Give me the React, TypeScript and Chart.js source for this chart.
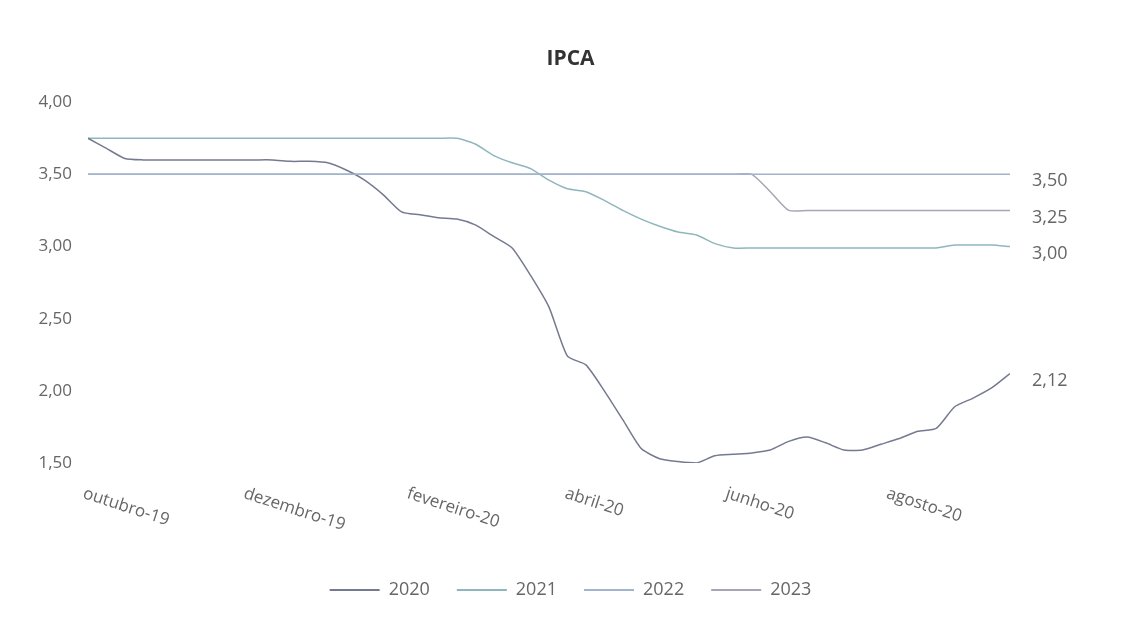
import { useEffect, useRef } from "react";
import { Chart, registerables } from "chart.js";

Chart.register(...registerables);

const FONT = "'Open Sans', 'DejaVu Sans', sans-serif";

// Weekly Focus survey dates
const dates = [
  "2019-10-04", "2019-10-11", "2019-10-18", "2019-10-25",
  "2019-11-01", "2019-11-08", "2019-11-15", "2019-11-22", "2019-11-29",
  "2019-12-06", "2019-12-13", "2019-12-20", "2019-12-27",
  "2020-01-03", "2020-01-10", "2020-01-17", "2020-01-24", "2020-01-31",
  "2020-02-07", "2020-02-14", "2020-02-21", "2020-02-28",
  "2020-03-06", "2020-03-13", "2020-03-20", "2020-03-27",
  "2020-04-03", "2020-04-10", "2020-04-17", "2020-04-24",
  "2020-05-01", "2020-05-08", "2020-05-15", "2020-05-22", "2020-05-29",
  "2020-06-05", "2020-06-12", "2020-06-19", "2020-06-26",
  "2020-07-03", "2020-07-10", "2020-07-17", "2020-07-24", "2020-07-31",
  "2020-08-07", "2020-08-14", "2020-08-21", "2020-08-28",
  "2020-09-04", "2020-09-11", "2020-09-18",
];

const ipca2020 = [
  3.75, 3.68, 3.61, 3.60, 3.60, 3.60, 3.60, 3.60, 3.60, 3.60,
  3.60, 3.59, 3.59, 3.58, 3.53, 3.46, 3.36, 3.24, 3.22, 3.20,
  3.19, 3.15, 3.07, 2.99, 2.80, 2.58, 2.24, 2.18, 2.00, 1.80,
  1.60, 1.53, 1.51, 1.50, 1.55, 1.56, 1.57, 1.59, 1.65, 1.68,
  1.64, 1.59, 1.59, 1.63, 1.67, 1.72, 1.74, 1.89, 1.95, 2.02,
  2.12,
];

const ipca2021 = [
  3.75, 3.75, 3.75, 3.75, 3.75, 3.75, 3.75, 3.75, 3.75, 3.75,
  3.75, 3.75, 3.75, 3.75, 3.75, 3.75, 3.75, 3.75, 3.75, 3.75,
  3.75, 3.71, 3.63, 3.58, 3.54, 3.46, 3.40, 3.38, 3.32, 3.25,
  3.19, 3.14, 3.10, 3.08, 3.02, 2.99, 2.99, 2.99, 2.99, 2.99,
  2.99, 2.99, 2.99, 2.99, 2.99, 2.99, 2.99, 3.01, 3.01, 3.01,
  3.00,
];

const ipca2022 = [
  3.50, 3.50, 3.50, 3.50, 3.50, 3.50, 3.50, 3.50, 3.50, 3.50,
  3.50, 3.50, 3.50, 3.50, 3.50, 3.50, 3.50, 3.50, 3.50, 3.50,
  3.50, 3.50, 3.50, 3.50, 3.50, 3.50, 3.50, 3.50, 3.50, 3.50,
  3.50, 3.50, 3.50, 3.50, 3.50, 3.50, 3.50, 3.50, 3.50, 3.50,
  3.50, 3.50, 3.50, 3.50, 3.50, 3.50, 3.50, 3.50, 3.50, 3.50,
  3.50,
];

const ipca2023 = [
  3.50, 3.50, 3.50, 3.50, 3.50, 3.50, 3.50, 3.50, 3.50, 3.50,
  3.50, 3.50, 3.50, 3.50, 3.50, 3.50, 3.50, 3.50, 3.50, 3.50,
  3.50, 3.50, 3.50, 3.50, 3.50, 3.50, 3.50, 3.50, 3.50, 3.50,
  3.50, 3.50, 3.50, 3.50, 3.50, 3.50, 3.50, 3.38, 3.25, 3.25,
  3.25, 3.25, 3.25, 3.25, 3.25, 3.25, 3.25, 3.25, 3.25, 3.25,
  3.25,
];

const seriesNames = ["2020", "2021", "2022", "2023"];
const seriesValues = [ipca2020, ipca2021, ipca2022, ipca2023];
const seriesColors = ["#757a90", "#8fb6bd", "#a0b4cd", "#aaa5b6"];

const monthTickDates = [
  "2019-10-01", "2019-12-01", "2020-02-01", "2020-04-01", "2020-06-01", "2020-08-01",
];
const monthTickLabels = [
  "outubro-19", "dezembro-19", "fevereiro-20", "abril-20", "junho-20", "agosto-20",
];

const yMin = 1.5;
const yMax = 4.0;
const yStep = 0.5;

const BASE = Date.parse("2019-10-01T00:00:00Z");
const dayOf = (d: string) => Math.round((Date.parse(d + "T00:00:00Z") - BASE) / 86400000);
const fmt = (v: number) => v.toFixed(2).replace(".", ",");

const TEXT_COLOR = "#666666";

const monthLabelsPlugin = {
  id: "monthLabels",
  afterDraw(chart: any) {
    const { ctx, chartArea } = chart;
    const x = chart.scales.x;
    ctx.save();
    ctx.font = `17px ${FONT}`;
    ctx.fillStyle = TEXT_COLOR;
    ctx.textAlign = "left";
    ctx.textBaseline = "top";
    monthTickDates.forEach((d, i) => {
      const px = x.getPixelForValue(dayOf(d));
      ctx.save();
      ctx.translate(px + 6, chartArea.bottom + 22);
      ctx.rotate((18 * Math.PI) / 180);
      ctx.fillText(monthTickLabels[i], 0, 0);
      ctx.restore();
    });
    ctx.restore();
  },
};

const endLabelsPlugin = {
  id: "endLabels",
  afterDatasetsDraw(chart: any) {
    const { ctx, chartArea } = chart;
    ctx.save();
    ctx.font = `18px ${FONT}`;
    ctx.fillStyle = TEXT_COLOR;
    ctx.textAlign = "left";
    ctx.textBaseline = "middle";
    chart.data.datasets.forEach((ds: any, i: number) => {
      const meta = chart.getDatasetMeta(i);
      const pt = meta.data[meta.data.length - 1];
      if (!pt) return;
      const last = ds.data[ds.data.length - 1].y;
      ctx.fillText(fmt(last), chartArea.right + 22, pt.y + 7);
    });
    ctx.restore();
  },
};

export default function App() {
  const ref = useRef<HTMLCanvasElement | null>(null);

  useEffect(() => {
    if (!ref.current) return;
    const chart = new Chart(ref.current, {
      type: "line",
      data: {
        datasets: seriesNames.map((name, i) => ({
          label: name,
          data: dates.map((d, j) => ({ x: dayOf(d), y: seriesValues[i][j] })),
          borderColor: seriesColors[i],
          backgroundColor: seriesColors[i],
          borderWidth: 1.5,
          pointRadius: 0,
          tension: 0.2,
          fill: false,
          order: i === 2 ? -1 : i,
        })),
      },
      options: {
        responsive: false,
        animation: false,
        layout: { padding: { top: 28, left: 16, right: 0, bottom: 14 } },
        plugins: {
          title: {
            display: true,
            text: "IPCA",
            color: "#333333",
            font: { family: FONT, size: 21, weight: "bold" },
            padding: { top: 10, bottom: 31 },
          },
          legend: {
            display: true,
            position: "bottom",
            labels: {
              boxWidth: 50,
              boxHeight: 2,
              padding: 27,
              color: TEXT_COLOR,
              font: { family: FONT, size: 18 },
              generateLabels: (c: any) =>
                c.data.datasets.map((ds: any, i: number) => ({
                  text: ds.label,
                  fillStyle: ds.borderColor,
                  strokeStyle: ds.borderColor,
                  fontColor: TEXT_COLOR,
                  lineWidth: 0,
                  hidden: false,
                  datasetIndex: i,
                })),
            },
          },
          tooltip: { enabled: false },
        },
        scales: {
          x: {
            type: "linear",
            min: dayOf(dates[0]),
            max: dayOf(dates[dates.length - 1]),
            grid: { display: false, drawTicks: false },
            border: { display: false },
            ticks: { display: false },
            afterFit: (s: any) => {
              s.height = 91;
            },
          },
          y: {
            min: yMin,
            max: yMax,
            grid: { display: false, drawTicks: false },
            border: { display: false },
            ticks: {
              stepSize: yStep,
              padding: 16,
              color: TEXT_COLOR,
              font: { family: FONT, size: 17 },
              callback: (v: any) => fmt(Number(v)),
            },
            afterFit: (s: any) => {
              s.width = 64;
            },
          },
          yRight: {
            position: "right",
            display: true,
            grid: { display: false, drawTicks: false },
            border: { display: false },
            ticks: { display: false },
            afterFit: (s: any) => {
              s.width = 107;
            },
          },
        },
      },
      plugins: [monthLabelsPlugin, endLabelsPlugin],
    } as any);
    return () => chart.destroy();
  }, []);

  return <canvas ref={ref} width={1109} height={615} style={{ display: "block" }} />;
}
